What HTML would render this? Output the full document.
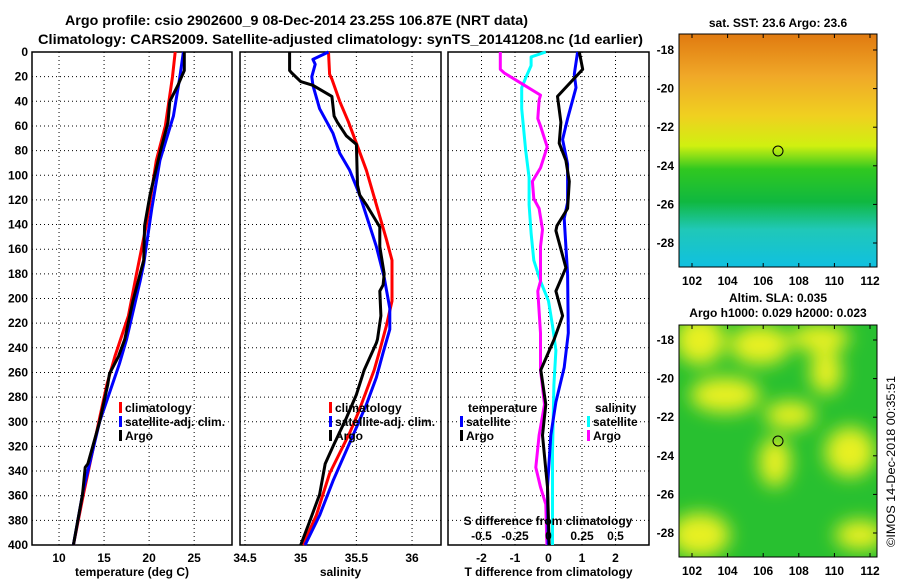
<!DOCTYPE html>
<html><head><meta charset="utf-8"><style>
body{margin:0;background:#fff}
svg{display:block;font-family:"Liberation Sans",Arial,sans-serif;font-weight:bold}
</style></head><body>
<svg id="c" width="900" height="580" viewBox="0 0 900 580">
<defs>
<linearGradient id="sst" x1="0" y1="0" x2="0" y2="1">
<stop offset="0" stop-color="#e07a10"/><stop offset="0.18" stop-color="#f0a828"/><stop offset="0.35" stop-color="#f0d020"/><stop offset="0.48" stop-color="#d0f010"/><stop offset="0.58" stop-color="#30c820"/><stop offset="0.72" stop-color="#10b840"/><stop offset="0.84" stop-color="#20c8b8"/><stop offset="1" stop-color="#10c0e0"/>
</linearGradient>
<filter id="blur"><feGaussianBlur stdDeviation="9"/></filter>
<clipPath id="m2c"><rect x="679" y="325" width="198" height="232"/></clipPath>
</defs>
<text x="65" y="25" font-size="14" textLength="463" lengthAdjust="spacingAndGlyphs">Argo profile: csio 2902600_9 08-Dec-2014 23.25S 106.87E (NRT data)</text>
<text x="38" y="44" font-size="14" textLength="605" lengthAdjust="spacingAndGlyphs">Climatology: CARS2009. Satellite-adjusted climatology: synTS_20141208.nc (1d earlier)</text>
<g id="plots"></g>
<g>
<rect x="679" y="34" width="198" height="233" fill="url(#sst)"/>
<rect x="679" y="34" width="198" height="233" fill="none" stroke="#000"/>
<circle cx="778" cy="151" r="5" fill="none" stroke="#000"/>
</g>
<text x="778" y="27" font-size="12" text-anchor="middle">sat. SST: 23.6 Argo: 23.6</text>
<g>
<rect x="679" y="325" width="198" height="232" fill="#28c030"/>
<g clip-path="url(#m2c)" filter="url(#blur)" fill="#e8f020">
<ellipse cx="700" cy="340" rx="25" ry="25"/><ellipse cx="760" cy="345" rx="30" ry="20"/><ellipse cx="820" cy="338" rx="30" ry="14"/>
<ellipse cx="826" cy="372" rx="16" ry="22"/><ellipse cx="725" cy="395" rx="35" ry="18"/><ellipse cx="790" cy="415" rx="25" ry="14"/>
<ellipse cx="850" cy="452" rx="25" ry="25"/><ellipse cx="775" cy="462" rx="16" ry="25"/><ellipse cx="700" cy="535" rx="30" ry="22"/><ellipse cx="860" cy="535" rx="25" ry="15"/>
</g>
<rect x="679" y="325" width="198" height="232" fill="none" stroke="#000"/>
<circle cx="778" cy="441" r="5" fill="none" stroke="#000"/>
</g>
<text x="778" y="302" font-size="12" text-anchor="middle">Altim. SLA: 0.035</text>
<text x="778" y="317" font-size="12" text-anchor="middle">Argo h1000: 0.029 h2000: 0.023</text>
<text transform="translate(895,547) rotate(-90)" font-size="12" font-weight="normal" textLength="171" lengthAdjust="spacingAndGlyphs">©IMOS 14-Dec-2018 00:35:51</text>
<g id="maps"></g>
</svg>
<script>
// ---- data ----
const depthTicks=[0,20,40,60,80,100,120,140,160,180,200,220,240,260,280,300,320,340,360,380,400];
const tTicks=[10,15,20,25];
const sTicks=[34.5,35,35.5,36];
const dtTicks=[-2,-1,0,1,2];
const dsTicks=[-0.5,-0.25,0,0.25,0.5];
const tClimD=[0,20,60,88,140,180,214,247,270,297,359,400];
const tClimV=[22.9,22.6,21.8,20.8,19.7,18.6,17.7,16.2,15.3,14.5,12.7,11.6];
const tSatD=[0,21,52,88,127,172,186,211,233,253,300,355,400];
const tSatV=[23.8,23.4,22.7,21.2,20.3,19.4,19.0,18.2,17.5,16.7,14.5,12.7,11.6];
const tArgoD=[0,15,27,40,57,82,116,141,169,202,233,247,261,270,300,334,337,359,400];
const tArgoV=[23.9,23.9,23.2,22.3,22.1,21.2,20.1,19.5,19.4,18.2,17.3,16.6,15.6,15.4,14.5,13.2,12.9,12.6,11.6];
const sClimD=[0,18,22,40,57,74,96,124,152,169,202,222,242,258,275,292,309,342,376,400];
const sClimV=[35.25,35.26,35.28,35.35,35.43,35.5,35.59,35.68,35.77,35.82,35.82,35.77,35.71,35.66,35.59,35.52,35.44,35.26,35.14,35.02];
const sSatD=[0,6,10,20,27,46,66,82,96,116,141,158,183,208,225,244,264,286,311,348,376,400];
const sSatV=[35.25,35.11,35.13,35.1,35.11,35.17,35.29,35.35,35.44,35.53,35.62,35.68,35.75,35.8,35.8,35.74,35.68,35.59,35.47,35.29,35.17,35.04];
const sArgoD=[0,15,17,24,27,36,52,57,68,75,108,116,124,133,142,158,180,189,194,214,233,236,258,278,297,320,334,359,381,400];
const sArgoV=[34.9,34.9,34.92,35.0,35.11,35.28,35.3,35.33,35.41,35.5,35.51,35.53,35.59,35.65,35.71,35.71,35.75,35.74,35.71,35.72,35.69,35.68,35.57,35.5,35.41,35.29,35.22,35.17,35.08,35.0];
const dtSatD=[0,18,29,54,71,91,122,135,158,180,228,256,284,311,353,400];
const dtSatV=[0.87,0.77,0.82,0.57,0.42,0.57,0.57,0.47,0.52,0.57,0.59,0.47,0.22,0.07,-0.03,-0.01];
const dtArgoD=[0,14,36,57,74,88,105,127,141,145,175,194,214,233,258,286,311,353,400];
const dtArgoV=[0.92,1.02,0.27,0.37,0.32,0.52,0.62,0.57,0.25,0.22,0.52,0.22,0.42,0.17,-0.23,-0.08,-0.18,-0.03,0.02];
const dsSatD=[0,4,11,21,29,46,80,102,124,147,169,186,202,222,242,270,325,400];
const dsSatV=[-0.02,-0.13,-0.13,-0.17,-0.2,-0.2,-0.17,-0.145,-0.145,-0.13,-0.11,-0.06,0.0,0.03,0.055,0.04,0.03,0.03];
const dsArgoD=[0,14,17,25,35,39,54,60,77,94,105,119,127,144,158,186,194,228,258,286,311,337,353,367,400];
const dsArgoV=[-0.36,-0.36,-0.33,-0.21,-0.06,-0.07,-0.08,-0.06,-0.01,-0.06,-0.12,-0.11,-0.07,-0.045,-0.06,-0.06,-0.08,-0.06,-0.06,-0.03,-0.07,-0.095,-0.06,-0.02,-0.012];
const lonTicks=[102,104,106,108,110,112];
const latTicks=[-18,-20,-22,-24,-26,-28];

const NS='http://www.w3.org/2000/svg';
const g=document.getElementById('plots');
function el(tag,attrs,parent){const e=document.createElementNS(NS,tag);for(const k in attrs)e.setAttribute(k,attrs[k]);(parent||g).appendChild(e);return e;}
const Y0=52,Y1=545;
const yS=d=>Y0+(Y1-Y0)*d/400;
function panel(name,x0,x1,vmin,vmax,ticks,xlabel,fmt){
  const xs=v=>x0+(x1-x0)*(v-vmin)/(vmax-vmin);
  const p=el('g',{});
  
  
  depthTicks.forEach(d=>{if(d>0&&d<400){const l=el('line',{x1:x0,x2:x1,y1:yS(d),y2:yS(d),stroke:'#000','stroke-width':1,'stroke-dasharray':'1 3'},p);}});
  ticks.forEach(v=>{const x=xs(v);if(x>x0+2&&x<x1-2){const l=el('line',{x1:x,x2:x,y1:Y0,y2:Y1,stroke:'#000','stroke-dasharray':'1 3'},p);}
    const t=el('text',{x:x,y:562,'font-size':12,'text-anchor':'middle'},p);t.textContent=fmt?fmt(v):v;});
  const r=el('rect',{x:x0,y:Y0,width:x1-x0,height:Y1-Y0,fill:'none',stroke:'#000','stroke-width':1.5},p);
  
  const xl=el('text',{x:(x0+x1)/2,y:576,'font-size':12,'text-anchor':'middle'},p);xl.textContent=xlabel;
  
  return {xs,p};
}
function line(P,D,V,color,name,scale){
  const pts=D.map((d,i)=>P.xs(V[i]*(scale||1)).toFixed(1)+','+yS(d).toFixed(1)).join(' ');
  const l=el('polyline',{points:pts,fill:'none',stroke:color,'stroke-width':3,'stroke-linejoin':'round'},P.p);
  
}
function legend(P,x,y,items){
  items.forEach((it,i)=>{const yy=y+i*14;
    const r=el('rect',{x:x,y:yy-10,width:3,height:11,fill:it[1]},P.p);
    const t=el('text',{x:x+6,y:yy,'font-size':12},P.p);t.textContent=it[0];});
}
depthTicks.forEach(d=>{const t=el('text',{x:28,y:yS(d)+4,'font-size':12,'text-anchor':'end'});t.textContent=d;
  });
const PT=panel('temperature',32,232,7,29.2,tTicks,'temperature (deg C)');
line(PT,tClimD,tClimV,'#f00','temp-climatology-line');
line(PT,tSatD,tSatV,'#00f','temp-satellite-line');
line(PT,tArgoD,tArgoV,'#000','temp-argo-line');
legend(PT,119,412,[['climatology','#f00'],['satellite-adj. clim.','#00f'],['Argo','#000']]);
const PS=panel('salinity',240,441,34.455,36.26,sTicks,'salinity');
line(PS,sClimD,sClimV,'#f00','sal-climatology-line');
line(PS,sSatD,sSatV,'#00f','sal-satellite-line');
line(PS,sArgoD,sArgoV,'#000','sal-argo-line');
legend(PS,329,412,[['climatology','#f00'],['satellite-adj. clim.','#00f'],['Argo','#000']]);
const PD=panel('difference',448,649,-3,3,dtTicks,'T difference from climatology');
line(PD,dsSatD,dsSatV,'#0ff','s-diff-satellite-line',4);
line(PD,dsArgoD,dsArgoV,'#f0f','s-diff-argo-line',4);
line(PD,dtSatD,dtSatV,'#00f','t-diff-satellite-line');
line(PD,dtArgoD,dtArgoV,'#000','t-diff-argo-line');
let tt=el('text',{x:468,y:412,'font-size':12},PD.p);tt.textContent='temperature';
tt=el('text',{x:595,y:412,'font-size':12},PD.p);tt.textContent='salinity';
legend(PD,460,426,[['satellite','#00f'],['Argo','#000']]);
legend(PD,587,426,[['satellite','#0ff'],['Argo','#f0f']]);
tt=el('text',{x:548,y:525,'font-size':12,'text-anchor':'middle'},PD.p);tt.textContent='S difference from climatology';
dsTicks.forEach(v=>{const t=el('text',{x:PD.xs(v*4),y:540,'font-size':12,'text-anchor':'middle'},PD.p);t.textContent=String(v);
  });
const mg=document.getElementById('maps');
function mapAxes(yTop,yBot,lat18,lat28,name,labY){
  lonTicks.forEach(l=>{const x=692+(l-102)*17.8;
    const t=el('text',{x:x,y:labY,'font-size':12,'text-anchor':'middle'},mg);t.textContent=l;
    const k=el('line',{x1:x,x2:x,y1:yBot,y2:yBot-4,stroke:'#000'},mg);
    const k2=el('line',{x1:x,x2:x,y1:yTop,y2:yTop+4,stroke:'#000'},mg);});
  latTicks.forEach(l=>{const y=lat18+(lat28-lat18)*(-18-l)/10;
    const t=el('text',{x:674,y:y+4,'font-size':12,'text-anchor':'end'},mg);t.textContent=l;
    const k=el('line',{x1:877,x2:873,y1:y,y2:y,stroke:'#000'},mg);});
}
mapAxes(34,267,50,243,'sst-map',285);
mapAxes(325,557,340,533,'sla-map',575);
</script>
</body></html>
